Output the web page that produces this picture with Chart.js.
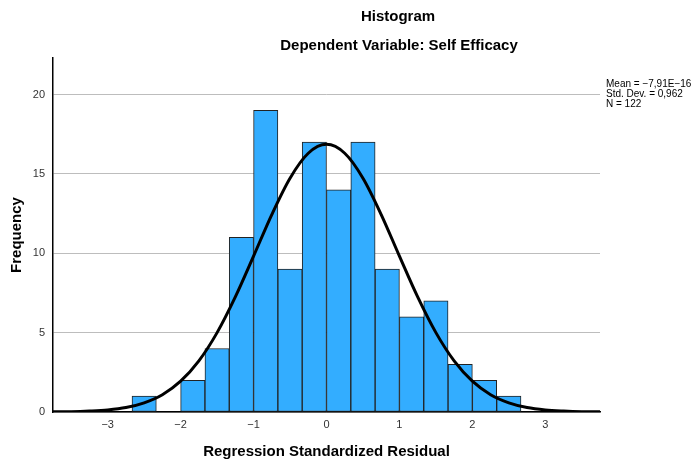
<!DOCTYPE html>
<html>
<head>
<meta charset="utf-8">
<script src="https://cdn.jsdelivr.net/npm/chart.js@4"></script>
<style>
  html, body { margin: 0; padding: 0; background: #fff; }
  #wrap { width: 693px; height: 466px; }
</style>
</head>
<body>
<div id="wrap"><canvas id="myChart" width="693" height="466"></canvas></div>
<script>
// HISTOGRAM DATA (bin centres, width 1/3)
const binCenters = [-2.5, -2.1667, -1.8333, -1.5, -1.1667, -0.8333, -0.5, -0.1667,
  0.1667, 0.5, 0.8333, 1.1667, 1.5, 1.8333, 2.1667, 2.5];
const frequency = [1, 0, 2, 4, 11, 19, 9, 17, 14, 17, 9, 6, 7, 3, 2, 1];

// NORMAL CURVE
const curveX = [-3.75, -3.5, -3.25, -3, -2.75, -2.5, -2.25, -2, -1.75, -1.5, -1.25, -1, -0.75, -0.5, -0.25,
  0, 0.25, 0.5, 0.75, 1, 1.25, 1.5, 1.75, 2, 2.25, 2.5, 2.75, 3, 3.25, 3.5, 3.75];
const curveY = [0.01, 0.02, 0.06, 0.13, 0.28, 0.58, 1.09, 1.94, 3.22, 5.0, 7.25, 9.82, 12.44, 14.73, 16.3,
  16.86, 16.3, 14.73, 12.44, 9.82, 7.25, 5.0, 3.22, 1.94, 1.09, 0.58, 0.28, 0.13, 0.06, 0.02, 0.01];

const xTicks = [-3, -2, -1, 0, 1, 2, 3];
const yTicks = [0, 5, 10, 15, 20];

const titleText = "Histogram";
const subtitleText = "Dependent Variable: Self Efficacy";
const statsText = ["Mean = \u22127,91E\u221216", "Std. Dev. = 0,962", "N = 122"];

const FONT = "'Liberation Sans', Arial, sans-serif";

// titles + stats box
const textPlugin = {
  id: "texts",
  afterDraw(chart) {
    const ctx = chart.ctx;
    ctx.save();
    ctx.fillStyle = "#000";
    ctx.textBaseline = "middle";
    ctx.textAlign = "center";
    ctx.font = "bold 15px " + FONT;
    ctx.fillText(titleText, 398, 17);
    ctx.fillText(subtitleText, 399, 46);
    ctx.textAlign = "left";
    ctx.font = "10px " + FONT;
    statsText.forEach(function (t, i) {
      ctx.fillText(t, 606, 84 + i * 10);
    });
    ctx.restore();
  },
};

const myChart = document.getElementById("myChart").getContext("2d");

const histChart = new Chart(myChart, {
  type: "bar",
  data: {
    datasets: [
      {
        type: "line",
        data: curveX.map(function (x, i) { return { x: x, y: curveY[i] }; }),
        borderColor: "#000",
        borderWidth: 3,
        pointRadius: 0,
        cubicInterpolationMode: "monotone",
        fill: false,
        order: 0,
      },
      {
        type: "bar",
        data: binCenters.map(function (x, i) { return { x: x, y: frequency[i] }; }),
        backgroundColor: "#33adff",
        borderColor: "#222",
        borderWidth: 1,
        borderSkipped: false,
        barPercentage: 1,
        categoryPercentage: 1,
        grouped: false,
        order: 1,
      },
    ],
  },
  options: {
    responsive: false,
    animation: false,
    layout: { padding: { left: 0, right: 93, top: 58, bottom: 0 } },
    plugins: {
      legend: { display: false },
      tooltip: { enabled: false },
    },
    scales: {
      x: {
        type: "linear",
        offset: false,
        min: -3.75,
        max: 3.75,
        afterBuildTicks: function (scale) {
          scale.ticks = xTicks.map(function (v) { return { value: v }; });
        },
        afterFit: function (scale) { scale.height = 54; },
        grid: { display: false, drawTicks: false },
        border: { color: "#000", width: 1.5 },
        ticks: {
          padding: 6,
          color: "#333",
          font: { family: FONT, size: 11 },
          callback: function (v) { return String(v).replace("-", "\u2212"); },
        },
        title: {
          display: true,
          text: "Regression Standardized Residual",
          color: "#000",
          font: { family: FONT, size: 15, weight: "bold" },
          padding: { top: 0, bottom: 5 },
        },
      },
      y: {
        min: 0,
        max: 22.3,
        afterBuildTicks: function (scale) {
          scale.ticks = yTicks.map(function (v) { return { value: v }; });
        },
        afterFit: function (scale) { scale.width = 53; },
        grid: { color: "#bdbdbd", lineWidth: 1, drawTicks: false },
        border: { color: "#000", width: 1.5 },
        ticks: {
          padding: 8,
          color: "#333",
          font: { family: FONT, size: 11 },
        },
        title: {
          display: true,
          text: "Frequency",
          color: "#000",
          font: { family: FONT, size: 15, weight: "bold" },
          padding: { top: 8, bottom: 0 },
        },
      },
    },
  },
  plugins: [textPlugin],
});
</script>
</body>
</html>
